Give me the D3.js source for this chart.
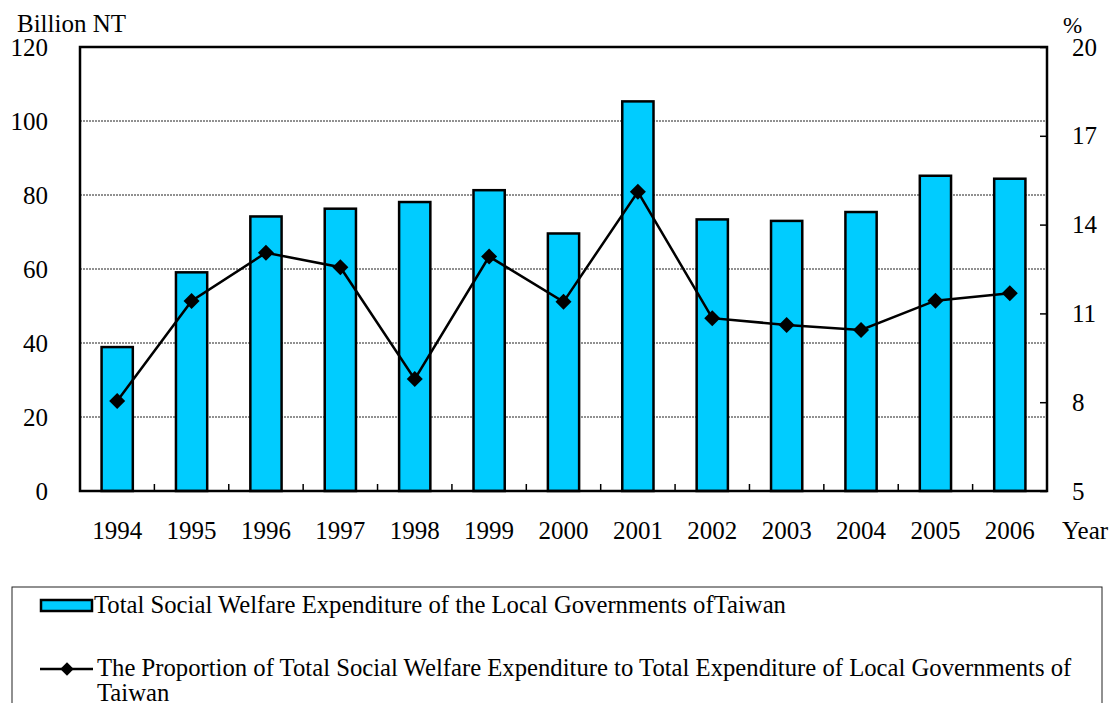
<!DOCTYPE html>
<html>
<head>
<meta charset="utf-8">
<script src="https://cdn.jsdelivr.net/npm/d3@7"></script>
<style>
  body { margin: 0; background: #fff; }
  svg { display: block; }
  svg text { font-family: "Liberation Serif", "Times New Roman", serif; }
</style>
</head>
<body>
<svg id="chart" width="1116" height="703"></svg>
<script>
// data
const years = ['1994', '1995', '1996', '1997', '1998', '1999', '2000', '2001', '2002', '2003', '2004', '2005', '2006']
const expenditure = [38.9, 59.1, 74.2, 76.3, 78.1, 81.3, 69.6, 105.3, 73.4, 73.0, 75.4, 85.2, 84.4]
const proportion = [8.04, 11.42, 13.05, 12.56, 8.78, 12.92, 11.39, 15.11, 10.84, 10.61, 10.44, 11.43, 11.68]
const leftTicks = [0, 20, 40, 60, 80, 100, 120]
const rightTicks = [5, 8, 11, 14, 17, 20]
const gridTicks = [20, 40, 60, 80, 100]

const barLabel = 'Total Social Welfare Expenditure of the Local Governments ofTaiwan'
const lineLabel = ['The Proportion of Total Social Welfare Expenditure to Total Expenditure of Local Governments of', 'Taiwan']

const colours = { bar: '#00ccff', ink: '#000' }
const plot = { left: 80, right: 1047, top: 47, bottom: 491 }
const fontSize = 25
const legendFont = 24.7

const svg = d3.select('#chart')

// scales
const x = d3.scaleBand()
    .domain(years)
    .range([plot.left, plot.right])
    .paddingInner(0.58)
    .paddingOuter(0.29)

const y = d3.scaleLinear().domain([0, 120]).range([plot.bottom, plot.top])
const y2 = d3.scaleLinear().domain([5, 20]).range([plot.bottom, plot.top])

// dotted grid
svg.append('g')
    .selectAll('line')
    .data(gridTicks)
    .join('line')
    .attr('x1', plot.left).attr('x2', plot.right)
    .attr('y1', d => y(d)).attr('y2', d => y(d))
    .attr('stroke', '#222')
    .attr('stroke-width', 1)
    .attr('stroke-dasharray', '2,1')

// bars
svg.append('g')
    .selectAll('rect')
    .data(years)
    .join('rect')
    .attr('x', d => x(d))
    .attr('y', (d, i) => y(expenditure[i]))
    .attr('width', x.bandwidth())
    .attr('height', (d, i) => plot.bottom - y(expenditure[i]))
    .attr('fill', colours.bar)
    .attr('stroke', colours.ink)
    .attr('stroke-width', 2.5)

// category boundary ticks on the bottom axis
svg.append('g')
    .selectAll('line')
    .data(years.slice(0, -1))
    .join('line')
    .attr('x1', d => x(d) + x.bandwidth() / 2 + x.step() / 2)
    .attr('x2', d => x(d) + x.bandwidth() / 2 + x.step() / 2)
    .attr('y1', plot.bottom).attr('y2', plot.bottom - 7)
    .attr('stroke', colours.ink)
    .attr('stroke-width', 1.5)

// frame
svg.append('rect')
    .attr('x', plot.left).attr('y', plot.top)
    .attr('width', plot.right - plot.left)
    .attr('height', plot.bottom - plot.top)
    .attr('fill', 'none')
    .attr('stroke', colours.ink)
    .attr('stroke-width', 2.5)

// line + diamonds
const cx = d => x(d) + x.bandwidth() / 2
svg.append('path')
    .datum(years)
    .attr('d', d3.line().x(cx).y((d, i) => y2(proportion[i])))
    .attr('fill', 'none')
    .attr('stroke', colours.ink)
    .attr('stroke-width', 2.5)

const diamond = d3.symbol(d3.symbolSquare, 128)
svg.append('g')
    .selectAll('path')
    .data(years)
    .join('path')
    .attr('d', diamond)
    .attr('transform', (d, i) => 'translate(' + cx(d) + ',' + y2(proportion[i]) + ') rotate(45)')
    .attr('fill', colours.ink)

// axes
const leftAxis = svg.append('g')
    .attr('transform', 'translate(' + plot.left + ',0)')
    .call(d3.axisLeft(y).tickValues(leftTicks).tickSize(0).tickPadding(32))

const rightAxis = svg.append('g')
    .attr('transform', 'translate(' + plot.right + ',0)')
    .call(d3.axisRight(y2).tickValues(rightTicks).tickSize(-7).tickPadding(25))

const bottomAxis = svg.append('g')
    .attr('transform', 'translate(0,' + plot.bottom + ')')
    .call(d3.axisBottom(x).tickSize(0).tickPadding(30))

for (const g of [leftAxis, rightAxis, bottomAxis]) {
    g.select('.domain').remove()
    g.attr('font-family', null).attr('font-size', null)
    g.selectAll('text')
        .attr('font-size', fontSize)
        .attr('fill', colours.ink)
    g.selectAll('line').attr('stroke', colours.ink).attr('stroke-width', 1.5)
}

// axis titles
svg.append('text').attr('x', 17).attr('y', 32).attr('font-size', fontSize).text('Billion NT')
svg.append('text').attr('x', 1063).attr('y', 33).attr('font-size', 23).text('%')
svg.append('text').attr('x', 1062).attr('y', 539).attr('font-size', fontSize).text('Year')

// legend
const legend = svg.append('g')
legend.append('rect')
    .attr('x', 12).attr('y', 587)
    .attr('width', 1090).attr('height', 140)
    .attr('fill', 'none')
    .attr('stroke', '#222')
    .attr('stroke-width', 1)

legend.append('rect')
    .attr('x', 41).attr('y', 600)
    .attr('width', 51).attr('height', 11)
    .attr('fill', colours.bar)
    .attr('stroke', colours.ink)
    .attr('stroke-width', 2.5)
legend.append('text')
    .attr('x', 94).attr('y', 613)
    .attr('font-size', legendFont)
    .text(barLabel)

legend.append('line')
    .attr('x1', 40).attr('x2', 93)
    .attr('y1', 669).attr('y2', 669)
    .attr('stroke', colours.ink)
    .attr('stroke-width', 2.5)
legend.append('path')
    .attr('d', d3.symbol(d3.symbolSquare, 90)())
    .attr('transform', 'translate(67,669) rotate(45)')
    .attr('fill', colours.ink)
legend.append('text')
    .attr('font-size', legendFont)
    .selectAll('tspan')
    .data(lineLabel)
    .join('tspan')
    .attr('x', 97)
    .attr('y', (d, i) => 676 + i * 25)
    .text(d => d)
</script>
</body>
</html>
